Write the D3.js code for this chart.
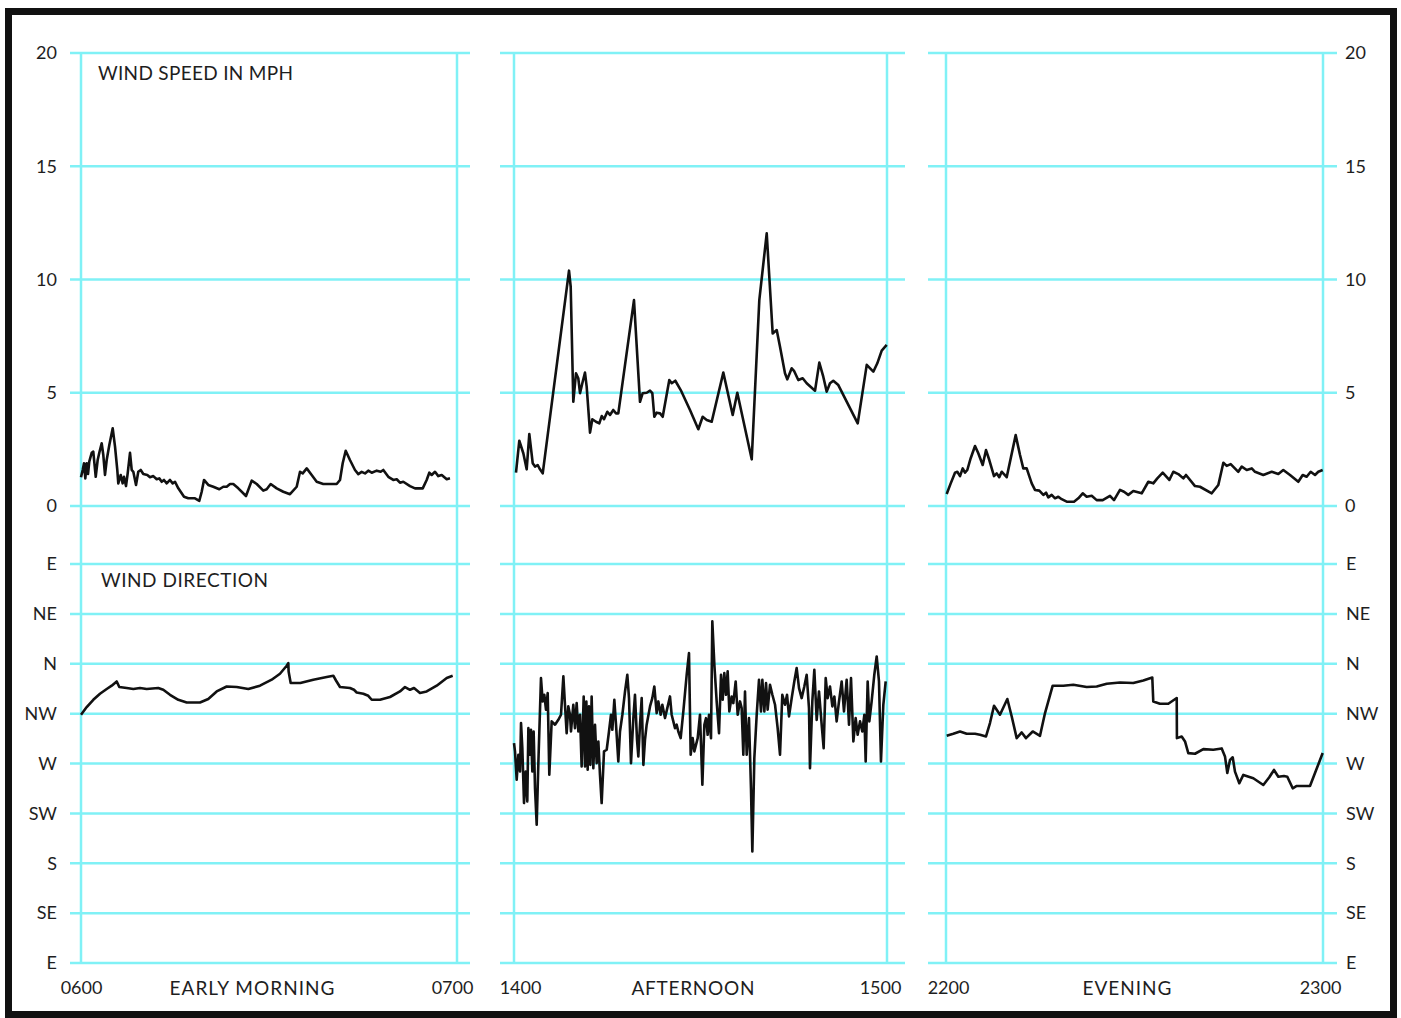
<!DOCTYPE html>
<html><head><meta charset="utf-8">
<script src="https://cdn.jsdelivr.net/npm/d3@7"></script>
<style>html,body{margin:0;padding:0;background:#fff;} svg{display:block;}</style>
</head><body><svg id="chart" width="1401" height="1018"></svg>
<script>
// ---------- DATA (minute within the hour, value) ----------
// Wind speed in mph
const morningSpeed = [[0,1.27],[0.27,1.59],[0.48,1.89],[0.69,1.22],[0.91,1.89],[1.12,1.41],[1.32,1.96],[1.71,2.35],[1.96,2.40],[2.35,1.29],[2.66,2.03],[2.92,2.35],[3.30,2.77],[3.56,2.25],[3.83,1.37],[4.10,2.03],[4.52,2.69],[5.06,3.43],[5.43,2.62],[5.79,1.59],[5.95,1.00],[6.34,1.37],[6.65,1.00],[6.86,1.29],[7.18,0.88],[7.45,1.44],[7.82,2.35],[8.09,1.59],[8.35,1.51],[8.78,0.93],[9.14,1.51],[9.53,1.59],[9.94,1.41],[10.58,1.37],[11.01,1.27],[11.54,1.32],[12.08,1.18],[12.49,1.22],[12.88,1.07],[13.24,1.15],[13.68,1.00],[14.20,1.15],[14.63,1.00],[15.00,1.07],[15.53,0.78],[16.44,0.41],[17.12,0.34],[18.19,0.34],[18.88,0.23],[19.26,0.63],[19.63,1.15],[20.31,0.93],[21.11,0.85],[22.07,0.74],[22.71,0.85],[23.25,0.85],[23.78,0.97],[24.30,0.97],[25.10,0.78],[26.33,0.44],[27.24,1.12],[28.04,0.97],[29.09,0.68],[29.63,0.74],[30.27,0.97],[31.23,0.78],[32.28,0.63],[33.35,0.52],[34.42,0.85],[34.95,1.51],[35.38,1.44],[36.02,1.66],[36.81,1.37],[37.61,1.07],[38.66,0.97],[40.80,0.97],[41.33,1.15],[41.76,1.89],[42.24,2.44],[42.92,2.03],[43.72,1.59],[44.25,1.41],[44.79,1.51],[45.32,1.44],[45.84,1.56],[46.39,1.47],[47.19,1.56],[47.82,1.51],[48.24,1.59],[49.04,1.29],[49.83,1.15],[50.38,1.18],[50.90,1.03],[51.43,1.07],[52.50,0.88],[53.30,0.78],[54.53,0.78],[55.16,1.15],[55.58,1.47],[55.96,1.37],[56.49,1.51],[57.02,1.32],[57.56,1.37],[58.36,1.18],[58.88,1.22]];

const afternoonSpeed = [[0.32,1.47],[0.85,2.88],[1.50,2.33],[2.04,1.62],[2.46,3.18],[3.01,1.89],[3.38,1.74],[3.81,1.81],[4.18,1.62],[4.62,1.44],[8.85,10.39],[9.12,9.68],[9.54,4.60],[9.97,5.86],[10.34,5.64],[10.62,4.98],[10.99,5.42],[11.42,5.89],[11.69,5.27],[12.23,3.24],[12.60,3.83],[13.19,3.72],[13.72,3.65],[14.11,3.97],[14.48,3.83],[15.01,4.16],[15.44,4.02],[15.97,4.24],[16.41,4.09],[16.78,4.09],[19.30,9.09],[20.27,4.60],[20.70,4.98],[21.35,5.00],[21.88,5.09],[22.25,4.98],[22.57,3.94],[22.95,4.12],[23.49,4.09],[23.92,3.94],[24.98,5.56],[25.37,5.42],[25.95,5.53],[26.82,5.12],[28.31,4.24],[29.65,3.39],[30.35,3.94],[31.00,3.80],[31.80,3.72],[33.67,5.89],[35.18,4.02],[35.92,5.00],[38.24,2.06],[39.46,9.09],[40.65,12.04],[41.61,7.62],[42.26,7.77],[42.79,7.03],[43.59,5.86],[43.96,5.59],[44.67,6.08],[45.04,5.97],[45.73,5.56],[46.44,5.64],[47.08,5.42],[48.42,5.09],[49.11,6.33],[49.75,5.71],[50.30,5.05],[50.83,5.42],[51.36,5.53],[52.17,5.34],[55.29,3.65],[56.74,6.23],[57.80,5.93],[58.44,6.30],[59.15,6.86],[59.95,7.11]];

const eveningSpeed = [[0.11,0.53],[0.75,1.00],[1.43,1.47],[1.80,1.51],[2.23,1.32],[2.66,1.66],[3.02,1.47],[3.39,1.59],[3.93,2.11],[4.62,2.65],[5.14,2.33],[5.84,1.81],[6.37,2.47],[6.89,2.03],[7.64,1.32],[8.07,1.44],[8.48,1.27],[8.86,1.51],[9.23,1.41],[9.66,1.27],[11.09,3.13],[11.78,2.25],[12.30,1.66],[12.84,1.66],[13.64,1.00],[14.16,0.71],[14.85,0.68],[15.49,0.49],[15.92,0.59],[16.28,0.38],[16.82,0.49],[17.35,0.34],[17.87,0.41],[18.41,0.30],[19.21,0.19],[20.37,0.19],[21.06,0.34],[21.76,0.56],[22.39,0.41],[23.19,0.45],[23.98,0.26],[24.94,0.26],[26.10,0.45],[26.74,0.26],[27.69,0.71],[28.33,0.63],[29.01,0.49],[29.81,0.66],[31.15,0.56],[32.20,1.07],[32.99,1.00],[33.63,1.22],[34.49,1.47],[35.54,1.15],[36.18,1.51],[36.97,1.41],[37.77,1.22],[38.20,1.37],[39.63,0.88],[40.42,0.85],[42.29,0.56],[43.34,0.93],[44.14,1.91],[44.68,1.77],[45.31,1.85],[46.52,1.51],[47.07,1.74],[47.86,1.59],[48.66,1.66],[49.18,1.51],[50.50,1.37],[51.84,1.51],[52.89,1.41],[53.68,1.59],[54.75,1.37],[56.07,1.07],[56.77,1.37],[57.40,1.29],[58.04,1.51],[58.73,1.37],[59.25,1.51],[59.95,1.59]];

// Wind direction as compass bearing in degrees (0 = N, 90 = E, 270 = W)
const morningDir = [[0,314.0],[0.91,320.9],[1.96,327.5],[3.03,332.9],[4.10,337.2],[4.90,340.2],[5.70,344.0],[6.11,339.0],[7.29,338.1],[8.35,337.2],[9.41,338.1],[10.48,337.2],[12.33,338.1],[13.13,336.5],[14.20,332.0],[15.53,327.5],[16.87,325.1],[18.99,325.1],[20.31,328.2],[21.65,335.0],[23.25,339.5],[24.85,339.0],[26.70,337.2],[28.56,340.2],[30.43,345.6],[31.75,351.0],[32.82,358.2],[33.08,0.6],[33.13,353.0],[33.46,342.6],[35.00,342.6],[37.07,345.6],[39.21,348.0],[40.26,349.2],[40.69,344.9],[41.33,339.0],[42.92,338.1],[43.56,336.5],[43.99,334.1],[45.05,332.9],[45.84,331.1],[46.39,327.5],[47.71,327.5],[49.31,330.0],[50.90,335.0],[51.70,339.0],[52.50,336.5],[53.14,338.1],[54.09,333.6],[55.16,335.0],[56.76,340.2],[58.36,347.2],[59.31,349.2]];

const afternoonDir = [[0,288.4],[0.16,280.9],[0.43,255.3],[0.70,277.9],[0.97,262.8],[1.13,306.5],[1.34,283.9],[1.61,234.3],[1.88,262.8],[2.14,235.8],[2.31,301.9],[2.57,277.9],[2.73,300.4],[2.95,262.8],[3.16,298.9],[3.38,247.8],[3.65,214.7],[3.91,268.8],[4.34,347.0],[4.61,326.0],[4.88,332.0],[5.15,318.5],[5.42,333.5],[5.68,259.8],[6.06,308.0],[6.60,305.0],[7.13,309.4],[7.56,314.0],[7.94,348.6],[8.20,323.0],[8.47,297.4],[8.74,321.5],[9.01,314.0],[9.17,298.9],[9.54,323.0],[9.81,301.9],[10.08,324.5],[10.35,298.9],[10.62,314.0],[10.88,267.3],[11.21,330.5],[11.42,267.3],[11.64,326.0],[11.85,264.3],[12.06,321.5],[12.28,268.8],[12.49,330.5],[12.76,265.8],[13.03,305.0],[13.30,270.3],[13.57,289.9],[13.83,259.8],[14.10,234.3],[14.48,280.9],[14.91,282.4],[15.28,298.9],[15.60,314.0],[15.82,300.4],[16.14,327.5],[16.41,305.0],[16.78,271.8],[17.05,298.9],[17.43,314.0],[17.86,335.0],[18.23,350.1],[18.50,329.0],[18.82,270.3],[19.20,311.0],[19.46,332.0],[19.79,291.4],[20.00,276.4],[20.27,305.0],[20.54,329.0],[20.81,268.8],[21.07,291.4],[21.34,305.0],[21.88,321.5],[22.25,329.0],[22.57,339.5],[22.95,315.5],[23.22,326.0],[23.59,314.0],[23.86,323.0],[24.29,311.0],[24.66,320.0],[25.09,330.5],[25.36,314.0],[25.63,308.0],[25.90,301.9],[26.17,305.0],[26.43,298.9],[26.81,292.9],[27.24,317.0],[27.78,350.1],[28.15,9.6],[28.42,277.9],[28.74,292.9],[29.01,280.9],[29.55,292.9],[29.92,314.0],[30.30,250.8],[30.62,304.9],[30.89,310.9],[31.15,295.9],[31.37,314.0],[31.69,292.9],[31.90,38.2],[32.23,359.1],[32.60,326.0],[32.98,297.4],[33.30,350.1],[33.57,327.5],[33.83,351.6],[34.10,332.0],[34.37,353.1],[34.64,317.0],[35.01,330.5],[35.28,324.5],[35.66,344.0],[35.98,314.0],[36.35,326.0],[36.62,320.0],[36.89,277.9],[37.16,335.0],[37.43,277.9],[37.80,310.9],[38.12,247.8],[38.34,190.6],[38.66,274.9],[39.04,314.0],[39.41,345.5],[39.73,317.0],[39.95,345.5],[40.27,317.0],[40.54,342.5],[40.80,318.5],[41.18,341.0],[41.56,332.0],[41.99,323.0],[42.41,301.9],[42.79,277.9],[43.16,332.0],[43.59,323.0],[43.92,332.0],[44.24,312.5],[44.67,329.0],[45.09,344.0],[45.47,356.1],[45.85,338.0],[46.27,329.0],[46.70,339.5],[47.08,350.1],[47.45,320.0],[47.61,265.8],[47.99,326.0],[48.31,354.6],[48.69,309.4],[49.06,335.0],[49.49,305.0],[49.81,283.9],[50.14,347.0],[50.46,329.0],[50.83,339.5],[51.21,321.5],[51.53,330.5],[51.90,308.0],[52.28,326.0],[52.71,344.0],[53.08,317.0],[53.51,345.5],[53.89,305.0],[54.21,347.0],[54.59,289.9],[54.96,311.0],[55.28,295.9],[55.66,308.0],[56.03,298.9],[56.36,314.0],[56.57,271.8],[56.89,344.0],[57.16,308.0],[57.53,326.0],[57.96,350.1],[58.34,6.6],[58.71,344.0],[59.03,271.8],[59.41,323.0],[59.79,344.0]];

const eveningDir = [[0.11,295.0],[1.16,296.8],[2.23,298.9],[3.29,296.8],[4.62,296.8],[5.41,295.9],[6.37,294.4],[7.00,306.5],[7.64,322.1],[8.59,314.0],[9.76,328.2],[10.46,312.4],[11.25,292.9],[12.05,298.0],[12.73,292.9],[13.80,298.9],[14.96,295.0],[15.76,315.5],[16.98,340.2],[18.67,340.2],[20.26,341.1],[22.39,339.0],[23.98,339.5],[25.58,342.0],[27.69,343.1],[29.81,342.6],[31.40,344.9],[32.83,347.6],[32.99,326.0],[34.05,323.9],[35.38,323.9],[36.72,329.1],[36.75,292.9],[37.51,294.4],[38.04,289.9],[38.56,279.4],[39.63,278.8],[40.95,283.0],[42.54,282.4],[43.88,283.6],[44.40,276.4],[44.77,261.4],[45.20,273.2],[45.63,275.6],[45.99,262.7],[46.68,252.2],[47.32,259.7],[48.91,256.7],[50.50,250.6],[51.45,257.6],[52.20,264.2],[52.89,258.1],[53.79,258.7],[54.32,258.1],[55.18,247.6],[55.82,249.7],[57.93,249.7],[59.95,279.4]];

// Axis ticks and labels
const speedTicks = [0, 5, 10, 15, 20];
const dirTickValues = [450, 405, 360, 315, 270, 225, 180, 135, 90];
const dirTickLabels = ["E", "NE", "N", "NW", "W", "SW", "S", "SE", "E"];
const periodNames = ["EARLY MORNING", "AFTERNOON", "EVENING"];
const startLabels = ["0600", "1400", "2200"];
const endLabels = ["0700", "1500", "2300"];
const speedTitle = "WIND SPEED IN MPH";
const dirTitle = "WIND DIRECTION";

// ---------- DRAWING ----------
const svg = d3.select("#chart");
const GRID = "#80f1f6";
const INK = "#1e1e1e";
const FONT = "Lato, 'Open Sans', sans-serif";

const layout = [
  {x0: 81, x1: 457, g0: 70, g1: 470, dx: [0, -5], nameX: 252, nameW: 165},
  {x0: 514, x1: 887, g0: 500, g1: 905, dx: [6, -7], nameX: 693, nameW: 123},
  {x0: 946, x1: 1323, g0: 928, g1: 1337, dx: [2, -3], nameX: 1127, nameW: 89}
];
const speedSeries = [morningSpeed, afternoonSpeed, eveningSpeed];
const dirSeries = [morningDir, afternoonDir, eveningDir];

const ySpeed = d3.scaleLinear().domain([0, 20]).range([506, 53]);
const yDir = d3.scaleLinear().domain([90, 450]).range([963, 564]);
const unwrap = b => (b < 90 ? b + 360 : b);

// frame
svg.append("rect").attr("x", 8.5).attr("y", 11.5).attr("width", 1385).attr("height", 1003)
  .attr("fill", "none").attr("stroke", "#111").attr("stroke-width", 7);

layout.forEach((p, i) => {
  const x = d3.scaleLinear().domain([0, 60]).range([p.x0, p.x1]);
  const g = svg.append("g");
  // horizontal grid
  g.selectAll("line.hs").data(speedTicks).join("line")
    .attr("x1", p.g0).attr("x2", p.g1)
    .attr("y1", d => ySpeed(d)).attr("y2", d => ySpeed(d))
    .attr("stroke", GRID).attr("stroke-width", 2.5);
  g.selectAll("line.hd").data(dirTickValues).join("line")
    .attr("x1", p.g0).attr("x2", p.g1)
    .attr("y1", d => yDir(d)).attr("y2", d => yDir(d))
    .attr("stroke", GRID).attr("stroke-width", 2.5);
  // vertical grid
  g.selectAll("line.v").data([0, 60]).join("line")
    .attr("x1", d => x(d)).attr("x2", d => x(d))
    .attr("y1", ySpeed(20)).attr("y2", yDir(90))
    .attr("stroke", GRID).attr("stroke-width", 2.5);

  // data lines
  const sLine = d3.line().x(d => x(d[0])).y(d => ySpeed(d[1]));
  const dLine = d3.line().x(d => x(d[0])).y(d => yDir(unwrap(d[1])));
  g.append("path").datum(speedSeries[i]).attr("d", sLine)
    .attr("fill", "none").attr("stroke", "#111").attr("stroke-width", 2.6)
    .attr("stroke-linejoin", "round");
  g.append("path").datum(dirSeries[i]).attr("d", dLine)
    .attr("fill", "none").attr("stroke", "#111").attr("stroke-width", 2.6)
    .attr("stroke-linejoin", "round");

  // bottom time axis
  const labels = [startLabels[i], endLabels[i]];
  const ax = svg.append("g").attr("transform", "translate(0,981)")
    .call(d3.axisBottom(x).tickValues([0, 60]).tickSize(0).tickPadding(0)
      .tickFormat((d, k) => labels[k]));
  ax.select(".domain").remove();
  ax.selectAll("text").attr("font-family", FONT).attr("font-size", 18).attr("fill", INK)
    .attr("dx", (d, k) => p.dx[k]);

  // period name
  svg.append("text").attr("x", p.nameX).attr("y", 995)
    .attr("text-anchor", "middle").attr("font-family", FONT).attr("font-size", 19)
    .attr("fill", INK).attr("textLength", p.nameW).attr("lengthAdjust", "spacing")
    .text(periodNames[i]);
});

function styleAxis(sel) {
  sel.select(".domain").remove();
  sel.selectAll("text").attr("font-family", FONT).attr("font-size", 18).attr("fill", INK);
}
// speed axes
svg.append("g").attr("transform", "translate(57,0)")
  .call(d3.axisLeft(ySpeed).tickValues(speedTicks).tickSize(0).tickPadding(0)).call(styleAxis);
svg.append("g").attr("transform", "translate(1345,0)")
  .call(d3.axisRight(ySpeed).tickValues(speedTicks).tickSize(0).tickPadding(0)).call(styleAxis);
// direction axes
const dirFmt = (d, k) => dirTickLabels[k];
svg.append("g").attr("transform", "translate(57,0)")
  .call(d3.axisLeft(yDir).tickValues(dirTickValues).tickSize(0).tickPadding(0).tickFormat(dirFmt)).call(styleAxis);
svg.append("g").attr("transform", "translate(1346,0)")
  .call(d3.axisRight(yDir).tickValues(dirTickValues).tickSize(0).tickPadding(0).tickFormat(dirFmt)).call(styleAxis);

// panel titles
svg.append("text").attr("x", 98).attr("y", 80).attr("font-family", FONT).attr("font-size", 19)
  .attr("fill", INK).attr("textLength", 195).attr("lengthAdjust", "spacing").text(speedTitle);
svg.append("text").attr("x", 101).attr("y", 587).attr("font-family", FONT).attr("font-size", 19)
  .attr("fill", INK).attr("textLength", 167).attr("lengthAdjust", "spacing").text(dirTitle);
</script>
</body></html>
